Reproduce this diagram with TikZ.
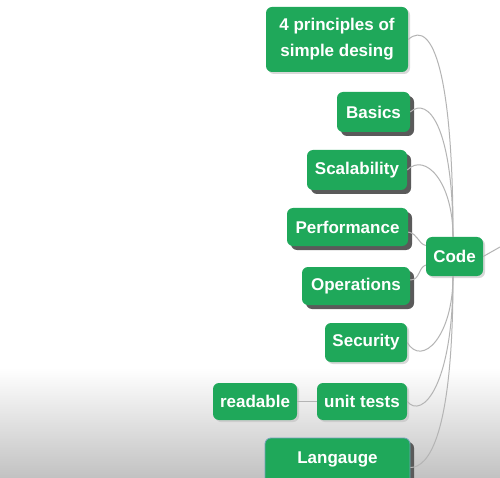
\documentclass[tikz,border=0pt]{standalone}
\usepackage{fontspec}
\setmainfont{Liberation Sans}
\usetikzlibrary{shadows}
\definecolor{mmgreen}{HTML}{1FA85A}
\definecolor{mmline}{HTML}{B4B4B4}
\definecolor{mmshadow}{HTML}{5A5A5A}
\begin{document}
\begin{tikzpicture}[x=1pt,y=-1pt,
  topic/.style={fill=mmgreen, text=white, rounded corners=6pt, inner sep=0pt,
    font=\fontsize{17}{26}\selectfont\bfseries, align=center},
  soft/.style={drop shadow={shadow xshift=2pt, shadow yshift=-2pt, fill=black!25, opacity=0.6}},
  folded/.style={drop shadow={shadow xshift=4pt, shadow yshift=-4pt, fill=mmshadow, opacity=1}},
  link/.style={draw=mmline, line width=1pt}]
\path[use as bounding box, clip] (0,0) rectangle (500,478);
\fill[white] (0,0) rectangle (500,478);
\shade[top color=white, bottom color=black!24] (0,368) rectangle (500,478);

% nodes
\node[topic, soft, minimum width=142pt, minimum height=65pt] (p4) at (337,39.5) {4 principles of\\simple desing};
\node[topic, folded, minimum width=73pt, minimum height=40pt] (basics) at (373.5,112) {Basics};
\node[topic, folded, minimum width=100pt, minimum height=40pt] (scal) at (357,170) {Scalability};
\node[topic, folded, minimum width=121pt, minimum height=38pt] (perf) at (347.5,227) {Performance};
\node[topic, soft, minimum width=57pt, minimum height=39pt] (code) at (454.5,256.5) {Code};
\node[topic, folded, minimum width=108pt, minimum height=38pt] (oper) at (356,286) {Operations};
\node[topic, soft, minimum width=82pt, minimum height=39pt] (sec) at (366,342.5) {Security};
\node[topic, soft, minimum width=90pt, minimum height=37pt] (unit) at (362,401.5) {unit tests};
\node[topic, soft, minimum width=84pt, minimum height=37pt] (read) at (255,401.5) {readable};
\node[topic, folded, draw=cyan!40!gray, line width=0.8pt, minimum width=145pt, minimum height=65pt] (lang) at (337.5,470.5) {Langauge\\\mbox{}};
\coordinate (right) at (500,247);

% connectors
\draw[link] (p4.east) .. controls +(25,-22) and +(0,-160) .. ([xshift=-1.5pt]code.north);
\draw[link] (basics.east) .. controls +(18,-16) and +(0,-110) .. ([xshift=-1.5pt]code.north);
\draw[link] (scal.east) .. controls +(18,-18) and +(0,-55) .. ([xshift=-1.5pt]code.north);
\draw[link] ([yshift=-5pt]perf.east) .. controls +(10,2) and +(-8,-2) .. ([yshift=11pt]code.west);
\draw[link] ([yshift=6pt]oper.east) .. controls +(10,0) and +(-8,3) .. ([yshift=-8.5pt]code.west);
\draw[link] (sec.east) .. controls +(15,25) and +(0,60) .. ([xshift=-1.5pt]code.south);
\draw[link] (unit.east) .. controls +(15,18) and +(0,110) .. ([xshift=-1.5pt]code.south);
\draw[link] ([yshift=3pt]lang.east) .. controls +(18,0) and +(0,160) .. ([xshift=-1.5pt]code.south);
\draw[link] (read) -- (unit);
\draw[link] (code.east) -- (right);
\end{tikzpicture}
\end{document}
